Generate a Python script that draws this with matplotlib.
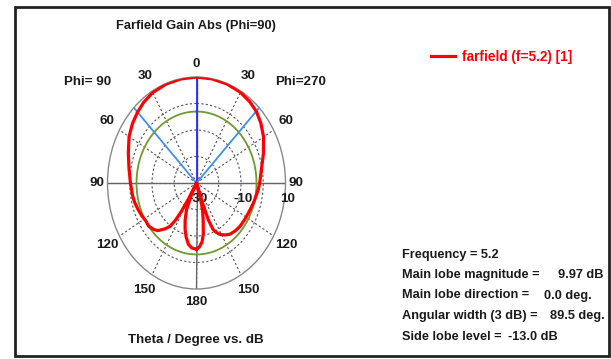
import numpy as np
import matplotlib
matplotlib.use("Agg")
import matplotlib.pyplot as plt
from matplotlib.patches import Rectangle
from matplotlib.transforms import offset_copy

plt.rcParams['font.family'] = ['Liberation Sans', 'DejaVu Sans']
plt.rcParams['font.weight'] = 'bold'

# Farfield gain (dB) in the Phi=90 half-plane (drawn on the left)
theta_phi90 = [0, 10, 20, 30, 38, 45, 52, 60, 70, 80, 90, 100, 105, 110, 117,
               122, 127, 132, 136, 141, 144, 146, 147.5, 149, 150.5,
               153, 156, 160, 164, 167, 171, 175, 180]
gain_phi90 = [9.97, 9.9, 9.75, 9.4, 8.6, 7.6, 6.5, 5.0, 2.6, 0.8, -0.3, -0.9, -1.3, -1.8, -2.5,
              -3.1, -3.03, -3.9, -5.0, -7.8, -9.8, -13.0, -17.0, -23.0, -31.0,
              -25.0, -19.0, -15.0, -11.5, -9.2, -6.6, -5.4, -5.0]

# Farfield gain (dB) in the Phi=270 half-plane (drawn on the right)
theta_phi270 = [0, 10, 20, 30, 38, 45, 52, 60, 70, 79, 90, 95, 105, 113, 122,
                130, 136, 142, 147, 151.5, 155, 157, 159, 160.5, 161.5,
                163, 165, 168, 171, 173.5, 177, 180]
gain_phi270 = [9.97, 9.9, 9.8, 9.5, 8.9, 8.1, 6.7, 4.8, 2.0, -0.2, -1.6, -2.1, -3.2, -3.9, -4.3,
               -4.5, -4.9, -5.5, -6.6, -7.9, -9.6, -11.0, -15.0, -22.0, -31.0,
               -24.0, -19.5, -15.5, -10.5, -7.7, -5.8, -5.0]

# Summary values
frequency = 5.2
main_lobe_mag = 9.97
main_lobe_dir = 0.0
angular_width = 89.5
side_lobe_level = -13.0

r_min, r_max = -30, 10
ring_values = [-20, -10, 0]
theta_ticks = [0, 30, 60, 90, 120, 150, 180, 210, 240, 270, 300, 330]
theta_labels = ['0', '30', '60', '90', '120', '150', '180', '150', '120', '90', '60', '30']
radial_labels = [(-30, '-30'), (-10, '-10'), (10, '10')]

W, H = 611, 359
fig = plt.figure(figsize=(W / 100, H / 100), dpi=100)


def fx(px):
    return px / W


def fy(py):
    return 1 - py / H


text_color = '#1a1a1a'
fs_tick = 9.6
fs_info = 9.2

# outer frame
fig.add_artist(Rectangle((fx(15), fy(356)), fx(609) - fx(15), fy(7) - fy(356),
                         transform=fig.transFigure, fill=False,
                         edgecolor='#222222', linewidth=2.0))

ax = fig.add_axes([fx(107.5), fy(289), fx(178), 212 / H], projection='polar')
ax.set_aspect('auto')
ax.set_theta_zero_location('N')
ax.set_theta_direction(1)
ax.set_rlim(r_min, r_max)

ax.set_thetagrids(theta_ticks, [''] * len(theta_ticks))
ax.set_rgrids(ring_values, labels=[''] * len(ring_values))
ax.grid(True, color='#555555', linestyle=(0, (2, 2)), linewidth=0.8)
ax.spines['polar'].set_color('#888888')
ax.spines['polar'].set_linewidth(1.0)

# angle labels just outside the outer ring
span = r_max - r_min
for ang, txt in zip(theta_ticks, theta_labels):
    t = np.deg2rad(ang)
    r_lab = r_max + span * (0.12 + 0.05 * abs(np.sin(2 * t)))
    ax.text(t, r_lab, txt, ha='center', va='center', fontsize=fs_tick,
            fontweight='bold', color=text_color, clip_on=False)

# solid axes through the origin
for ang in (0, 90, 180, 270):
    ax.plot([np.deg2rad(ang)] * 2, [r_min, r_max], color='#666666', lw=1.0, zorder=2)

# side lobe level circle
sll_abs = main_lobe_mag + side_lobe_level
circ = np.linspace(0, 2 * np.pi, 361)
ax.plot(circ, np.full_like(circ, sll_abs), color='#6f9a30', lw=1.3, zorder=3)

# main lobe direction and 3 dB beam width
ax.plot([np.deg2rad(main_lobe_dir)] * 2, [r_min, r_max], color='#2a2aff', lw=1.3, zorder=4)
for s in (1, -1):
    a = np.deg2rad(main_lobe_dir + s * angular_width / 2)
    ax.plot([a, a], [r_min, r_max], color='#3d8ff0', lw=1.3, zorder=4)

# radial scale labels along the right horizontal axis
lab_tr = offset_copy(ax.transData, fig=fig, x=2, y=-16, units='dots')
for val, txt in radial_labels:
    ax.text(np.deg2rad(270), val, txt, transform=lab_tr, ha='center', va='center',
            fontsize=fs_tick, fontweight='bold', color=text_color, zorder=3, clip_on=False)

# farfield curve (values below the scale floor sit at the centre)
th = np.concatenate([np.deg2rad(theta_phi90)[::-1], -np.deg2rad(theta_phi270)[1:]])
g = np.concatenate([np.array(gain_phi90)[::-1], np.array(gain_phi270)[1:]])
curve, = ax.plot(th, np.clip(g, r_min, None), color='#ff0000', lw=2.3, zorder=6,
                 label='farfield (f=5.2) [1]', solid_joinstyle='round')

fig.text(fx(88), fy(82), 'Phi= 90', ha='center', va='center', fontsize=fs_tick, color=text_color)
fig.text(fx(301), fy(82), 'Phi=270', ha='center', va='center', fontsize=fs_tick, color=text_color)
fig.text(fx(196), fy(26), 'Farfield Gain Abs (Phi=90)', ha='center', va='center',
         fontsize=9.3, color=text_color)
fig.text(fx(196), fy(340), 'Theta / Degree vs. dB', ha='center', va='center',
         fontsize=9.6, color=text_color)

fig.legend(handles=[curve], loc='center left', bbox_to_anchor=(fx(431), fy(56.5)),
           frameon=False, borderpad=0, borderaxespad=0, handlelength=1.75,
           handletextpad=0.5, labelcolor='#ff0000',
           prop={'size': 9.8, 'weight': 'bold'})

info_left = 402
rows = [
    (255, 'Frequency = %.1f' % frequency, None, None),
    (275, 'Main lobe magnitude =', 603.5, '%.2f dB' % main_lobe_mag),
    (295.5, 'Main lobe direction =', 592, '%.1f deg.' % main_lobe_dir),
    (316, 'Angular width (3 dB) =', 605, '%.1f deg.' % angular_width),
    (336.5, 'Side lobe level =', 558, '%.1f dB' % side_lobe_level),
]
for y, lab, vx, val in rows:
    fig.text(fx(info_left), fy(y), lab, ha='left', va='center', fontsize=fs_info, color=text_color)
    if val is not None:
        fig.text(fx(vx), fy(y), val, ha='right', va='center', fontsize=fs_info, color=text_color)

fig.savefig('out.png', dpi=100)
